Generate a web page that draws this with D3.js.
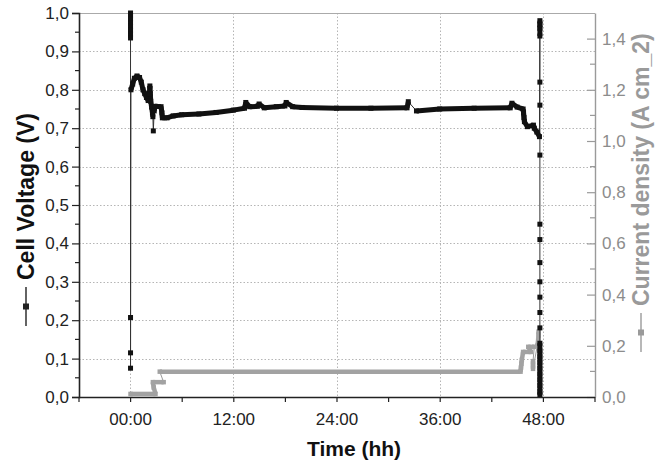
<!DOCTYPE html>
<html><head><meta charset="utf-8">
<script src="https://cdn.jsdelivr.net/npm/d3@7"></script>
<style>
html,body{margin:0;padding:0;background:#fff;}
svg{display:block;font-family:"Liberation Sans",Arial,Helvetica,sans-serif;}
</style></head>
<body><svg id="chart" width="670" height="464"></svg>
<script>
// ---------- data (time in hours) ----------
const voltageTime = [
  0.05,0.05,0.05,0.05,0.05,0.05,0.05,0.05,0.05,0.05,0.05,
  0.1,0.3,0.5,0.8,1.1,1.3,1.5,1.7,1.9,2.1,2.25,2.3,2.35,2.4,2.5,2.6,2.65,2.7,2.8,2.9,3.6,3.7,3.75,
  4.3,5,6,8,10,12,13.3,13.45,13.9,14.8,15.0,15.6,17.0,18.0,18.15,18.9,20,24,28,32.2,32.35,33.3,
  36,40,44.2,44.4,45.0,45.7,45.75,45.8,45.85,46.2,46.9,47.0,47.3,47.6,
  47.65,47.65,47.65,47.65,47.65,47.65,47.65,47.65,47.65,47.65,47.65,47.65,47.65,47.65,47.65,47.65,
  47.65,47.65,47.65,47.65,47.65,47.65,47.65,47.65
];
const voltageValue = [
  1.0,0.993,0.985,0.975,0.965,0.955,0.945,0.935,0.207,0.115,0.075,
  0.80,0.815,0.83,0.836,0.832,0.82,0.80,0.79,0.78,0.772,0.79,0.81,0.79,0.77,0.755,0.74,0.73,0.693,0.745,0.757,0.756,0.74,0.727,
  0.727,0.732,0.735,0.737,0.741,0.747,0.752,0.767,0.756,0.757,0.763,0.753,0.756,0.758,0.767,0.756,0.754,0.752,0.752,0.753,0.769,0.745,
  0.75,0.752,0.753,0.765,0.755,0.75,0.74,0.728,0.717,0.704,0.708,0.70,0.69,0.678,
  0.98,0.97,0.96,0.94,0.82,0.76,0.63,0.45,0.41,0.35,0.30,0.26,0.22,0.18,0.14,0.12,
  0.105,0.09,0.075,0.06,0.045,0.03,0.015,0.005
];
const currentTime = [
  0.05,2.95,2.75,2.65,3.9,3.45,45.4,45.45,45.5,45.55,45.7,46.6,46.3,47.0,46.85,46.85,46.85,47.35,47.45,47.5,47.5
];
const currentValue = [
  0.012,0.012,0.037,0.058,0.058,0.099,0.099,0.115,0.13,0.145,0.176,0.176,0.196,0.196,0.14,0.125,0.11,0.20,0.22,0.24,0.255
];
const timeTicks = [-6,0,6,12,18,24,30,36,42,48,54];
const timeLabels = [0,12,24,36,48];
const voltageTicks = [0,0.1,0.2,0.3,0.4,0.5,0.6,0.7,0.8,0.9,1.0];
const voltageMinor = [0.05,0.15,0.25,0.35,0.45,0.55,0.65,0.75,0.85,0.95];
const currentTicks = [0,0.2,0.4,0.6,0.8,1.0,1.2,1.4];
const currentMinor = [0.1,0.3,0.5,0.7,0.9,1.1,1.3];
const gridVoltage = [0.1,0.2,0.3,0.4,0.5,0.6,0.7,0.8,0.9];

// ---------- layout ----------
const L = 79, R = 595, T = 13, B = 397;
const svg = d3.select('#chart');
const x = d3.scaleLinear().domain([-6,54]).range([L-0.5, R-0.5]);
const yV = d3.scaleLinear().domain([0,1]).range([B, T]);
const yJ = d3.scaleLinear().domain([0,1.5]).range([B, T]);
const comma = d => d3.format('.1f')(d).replace('.', ',');
const hhmm = d => String(d).padStart(2,'0') + ':00';

// grid
const grid = svg.append('g').attr('stroke','#b5b5b5').attr('stroke-width',1).attr('stroke-dasharray','1.5,2');
grid.selectAll('.gh').data(gridVoltage).join('line')
  .attr('x1',L).attr('x2',R).attr('y1',d=>Math.round(yV(d))+0.5).attr('y2',d=>Math.round(yV(d))+0.5);
grid.selectAll('.gv').data(timeLabels).join('line')
  .attr('y1',T).attr('y2',B).attr('x1',d=>Math.round(x(d))+0.5).attr('x2',d=>Math.round(x(d))+0.5);

// frame top (gray)
svg.append('line').attr('x1',L).attr('x2',R).attr('y1',T+0.5).attr('y2',T+0.5).attr('stroke','#aaa').attr('stroke-width',1.2);

function drawSeries(times, vals, yScale, bandColor, thinColor, size, band) {
  const pts = times.map((t,i)=>[x(t), yScale(vals[i])]);
  const g = svg.append('g');
  g.append('path').attr('d', d3.line()(pts)).attr('fill','none')
    .attr('stroke', thinColor).attr('stroke-width', 1);
  for (let i = 1; i < pts.length; i++) {
    if (Math.abs(pts[i][1]-pts[i-1][1]) < 9) {
      g.append('line').attr('x1',pts[i-1][0]).attr('y1',pts[i-1][1])
        .attr('x2',pts[i][0]).attr('y2',pts[i][1])
        .attr('stroke',bandColor).attr('stroke-width',band).attr('stroke-linecap','butt');
    }
  }
  g.selectAll('rect').data(pts).join('rect')
    .attr('x',d=>d[0]-size/2).attr('y',d=>d[1]-size/2)
    .attr('width',size).attr('height',size).attr('fill',bandColor);
}
drawSeries(currentTime, currentValue, yJ, '#a2a2a2', '#9a9a9a', 4.5, 4.5);
drawSeries(voltageTime, voltageValue, yV, '#111', '#333', 5, 5);

// axes
const tickFont = 17;
const left = svg.append('g').attr('transform',`translate(${L},0)`)
  .call(d3.axisLeft(yV).tickValues(voltageTicks).tickFormat(comma).tickSize(7).tickPadding(3));
left.append('g').selectAll('line').data(voltageMinor).join('line')
  .attr('x1',-4).attr('x2',0).attr('y1',d=>yV(d)).attr('y2',d=>yV(d)).attr('stroke','#222');
left.selectAll('path.domain').attr('stroke','#222').attr('stroke-width',1.6);
left.selectAll('line').attr('stroke','#222').attr('stroke-width',1.2);
left.selectAll('text').attr('font-size',tickFont).attr('fill','#222').attr('font-family',null);

const right = svg.append('g').attr('transform',`translate(${R},0)`)
  .call(d3.axisRight(yJ).tickValues(currentTicks).tickFormat(comma).tickSizeInner(-8).tickSizeOuter(0).tickPadding(7));
right.append('g').selectAll('line').data(currentMinor).join('line')
  .attr('x1',-5).attr('x2',0).attr('y1',d=>yJ(d)).attr('y2',d=>yJ(d));
right.selectAll('path.domain').attr('stroke','#9a9a9a').attr('stroke-width',1.4);
right.selectAll('line').attr('stroke','#9a9a9a').attr('stroke-width',1.2);
right.selectAll('text').attr('font-size',tickFont).attr('fill','#8c8c8c').attr('font-family',null);

const bottom = svg.append('g').attr('transform',`translate(0,${B})`)
  .call(d3.axisBottom(x).tickValues(timeTicks).tickFormat(d=>timeLabels.includes(d)?hhmm(d):'').tickSize(5).tickSizeOuter(0).tickPadding(11));
bottom.selectAll('path.domain').attr('stroke','#222').attr('stroke-width',1.6).attr('d',`M${L},0.5H${R}`);
bottom.selectAll('line').attr('stroke','#222').attr('stroke-width',1.2);
bottom.selectAll('text').attr('font-size',tickFont).attr('fill','#222').attr('font-family',null);

// titles
svg.append('text').attr('x',354).attr('y',456).attr('text-anchor','middle')
  .attr('font-size',21).attr('font-weight','bold').attr('fill','#111').text('Time (hh)');

const vSize = 23;
function vTitle(cx, startY, label, color, symColor) {
  const g = svg.append('g');
  g.append('text').attr('transform',`translate(${cx},${startY}) rotate(-90)`)
    .attr('font-size',vSize).attr('font-weight','bold').attr('fill',color).text(label);
  const sx = cx - 8;
  g.append('line').attr('x1',sx).attr('x2',sx).attr('y1',startY+7).attr('y2',startY+46)
    .attr('stroke',symColor).attr('stroke-width',1.4);
  g.append('rect').attr('x',sx-3).attr('y',startY+23.5).attr('width',6).attr('height',6).attr('fill',symColor);
}
vTitle(34, 280, 'Cell Voltage (V)', '#111', '#222');
vTitle(649, 306, 'Current density (A cm_2)', '#9a9a9a', '#9a9a9a');
</script></body></html>
